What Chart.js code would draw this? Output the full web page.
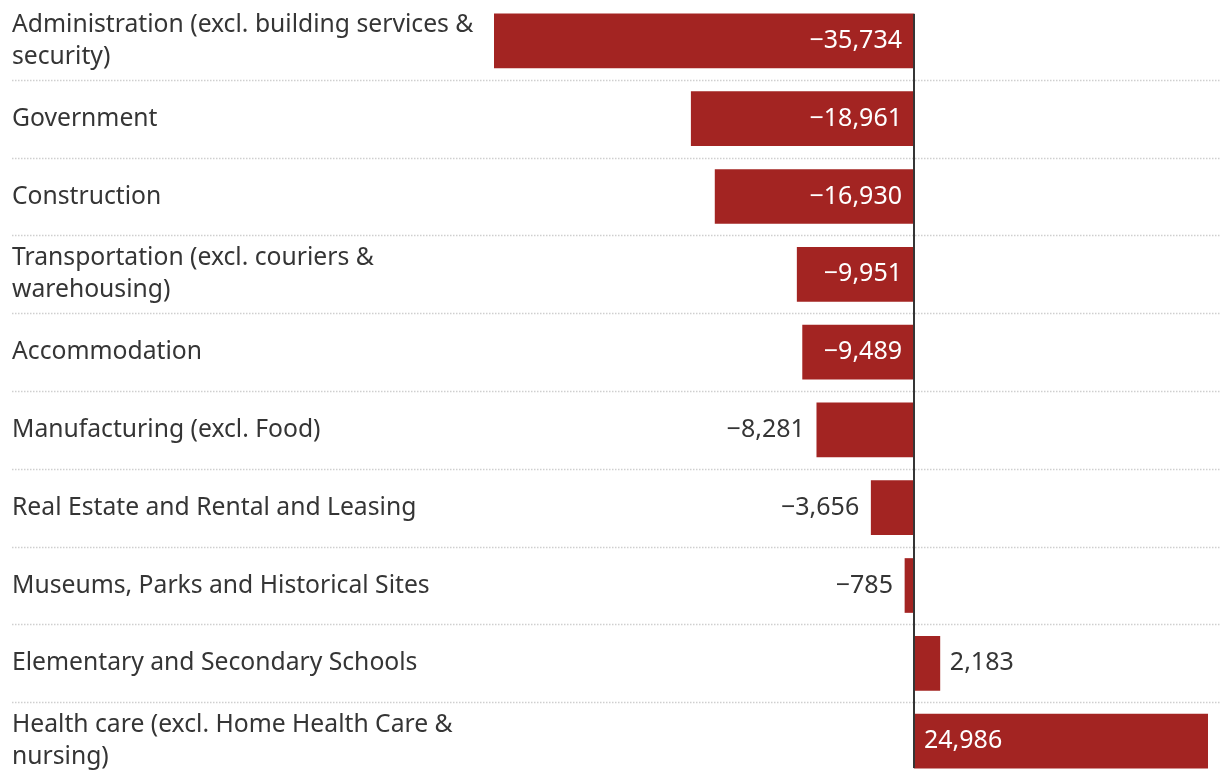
<!DOCTYPE html>
<html><head><meta charset="utf-8">
<script src="https://cdn.jsdelivr.net/npm/chart.js@4/dist/chart.umd.min.js"></script>
<style>html,body{margin:0;padding:0;background:#fff;} canvas{display:block;}</style>
</head><body>
<canvas id="c" width="1220" height="784"></canvas>
<script>
const categories = [
  ["Administration (excl. building services &", "security)"],
  "Government",
  "Construction",
  ["Transportation (excl. couriers &", "warehousing)"],
  "Accommodation",
  "Manufacturing (excl. Food)",
  "Real Estate and Rental and Leasing",
  "Museums, Parks and Historical Sites",
  "Elementary and Secondary Schools",
  ["Health care (excl. Home Health Care &", "nursing)"]
];
const values = [-35734, -18961, -16930, -9951, -9489, -8281, -3656, -785, 2183, 24986];

const FONT = "'Noto Sans', Lato, sans-serif";
const BAR = '#a32422';
const TEXT = '#353535';

function fmt(v) {
  const s = Math.abs(v).toLocaleString('en-US');
  return v < 0 ? '\u2212' + s : s;
}

const separators = {
  id: 'separators',
  beforeDatasetsDraw(chart) {
    const y = chart.scales.y, ctx = chart.ctx;
    ctx.save();
    ctx.strokeStyle = '#cfcfcf';
    ctx.lineWidth = 1.5;
    ctx.setLineDash([1.5, 1.5]);
    for (let i = 0; i < categories.length - 1; i++) {
      const yy = Math.round((y.getPixelForTick(i) + y.getPixelForTick(i + 1)) / 2) + 0.5;
      ctx.beginPath();
      ctx.moveTo(12, yy);
      ctx.lineTo(chart.width, yy);
      ctx.stroke();
    }
    ctx.restore();
  }
};

const valueLabels = {
  id: 'valueLabels',
  afterDatasetsDraw(chart) {
    const ctx = chart.ctx, meta = chart.getDatasetMeta(0), x = chart.scales.x;
    const zx = Math.round(x.getPixelForValue(0));
    ctx.save();
    const first = meta.data[0], last = meta.data[meta.data.length - 1];
    ctx.strokeStyle = TEXT;
    ctx.lineWidth = 2;
    ctx.beginPath();
    ctx.moveTo(zx, first.y - first.height / 2);
    ctx.lineTo(zx, last.y + last.height / 2);
    ctx.stroke();
    ctx.font = '25px ' + FONT;
    ctx.textBaseline = 'middle';
    meta.data.forEach((bar, i) => {
      const v = values[i], txt = fmt(v);
      const w = ctx.measureText(txt).width;
      const bw = Math.abs(bar.x - bar.base);
      const inside = w + 30 <= bw;
      ctx.fillStyle = inside ? '#ffffff' : TEXT;
      if (v < 0) {
        ctx.textAlign = 'right';
        ctx.fillText(txt, inside ? zx - 12 : bar.x - 12, bar.y);
      } else {
        ctx.textAlign = 'left';
        ctx.fillText(txt, inside ? zx + 10 : bar.x + 10, bar.y);
      }
    });
    ctx.restore();
  }
};

new Chart(document.getElementById('c'), {
  type: 'bar',
  data: {
    labels: categories,
    datasets: [{ data: values, backgroundColor: BAR, borderWidth: 0, barThickness: 54 }]
  },
  options: {
    indexAxis: 'y',
    responsive: false,
    animation: false,
    devicePixelRatio: 1,
    layout: { padding: { left: 12, right: 12, top: 2, bottom: 4 } },
    plugins: { legend: { display: false }, tooltip: { enabled: false } },
    scales: {
      x: {
        display: false,
        min: Math.min(...values),
        max: Math.max(...values)
      },
      y: {
        grid: { display: false },
        border: { display: false },
        afterFit(scale) {
          scale.width = 482;
          scale.paddingTop = 0;
          scale.paddingBottom = 0;
        },
        ticks: {
          crossAlign: 'far',
          padding: 0,
          color: TEXT,
          font: { family: FONT, size: 24.7, lineHeight: 1.3 }
        }
      }
    }
  },
  plugins: [separators, valueLabels]
});
</script>
</body></html>
